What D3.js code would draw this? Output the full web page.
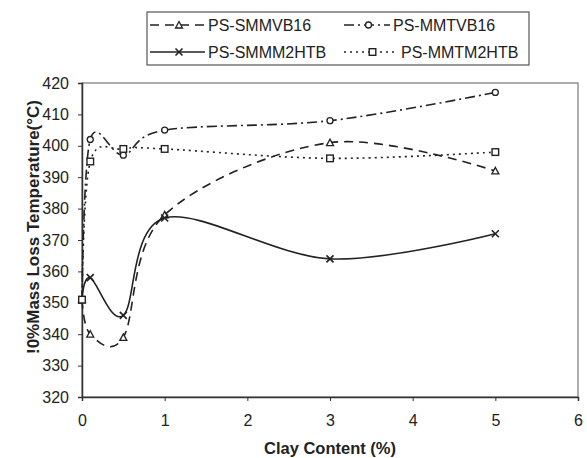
<!DOCTYPE html>
<html>
<head>
<meta charset="utf-8">
<script src="https://cdn.jsdelivr.net/npm/d3@7"></script>
<style>
  body { margin: 0; background: #fff; }
  text { font-family: "Liberation Sans", Arial, sans-serif; fill: #222; }
</style>
</head>
<body>
<div id="chart"></div>
<script>
// clay content (%)
var clay = [0, 0.1, 0.5, 1, 3, 5];
var smmvb16 = [351, 340, 339, 378, 401, 392];
var mmtvb16 = [351, 402, 397, 405, 408, 417];
var smmm2htb = [351, 358, 346, 377, 364, 372];
var mmtm2htb = [351, 395, 399, 399, 396, 398];
var xTicks = [0, 1, 2, 3, 4, 5, 6];
var yTicks = [320, 330, 340, 350, 360, 370, 380, 390, 400, 410, 420];

var width = 587, height = 458;
var plotL = 82, plotR = 578, plotT = 83, plotB = 397;

var svg = d3.select("#chart").append("svg")
   .attr("width", width)
   .attr("height", height);

var x = d3.scaleLinear().domain([0, 6]).range([plotL, plotR]);
var y = d3.scaleLinear().domain([320, 420]).range([plotB, plotT]);

// plot frame
svg.append("rect")
   .attr("x", plotL).attr("y", plotT)
   .attr("width", plotR - plotL).attr("height", plotB - plotT)
   .attr("fill", "none").attr("stroke", "#777").attr("stroke-width", 1.2);

var xAxis = svg.append("g")
   .attr("transform", "translate(0," + plotB + ")")
   .call(d3.axisBottom(x).tickValues(xTicks).tickSize(4).tickPadding(14).tickFormat(d3.format("d")));
var yAxis = svg.append("g")
   .attr("transform", "translate(" + plotL + ",0)")
   .call(d3.axisLeft(y).tickValues(yTicks).tickSize(4).tickPadding(9));
[xAxis, yAxis].forEach(function(a) {
   a.select(".domain").attr("stroke", "#333").attr("stroke-width", 1.5);
   a.selectAll(".tick line").attr("stroke", "#333");
   a.selectAll("text").attr("font-size", 16).attr("fill", "#222")
      .attr("font-family", "Liberation Sans, Arial, sans-serif");
});

svg.append("text")
   .attr("x", 330).attr("y", 454)
   .attr("text-anchor", "middle")
   .attr("font-size", 16.5).attr("font-weight", "bold")
   .text("Clay Content (%)");

svg.append("text")
   .attr("transform", "translate(39,227) rotate(-90)")
   .attr("text-anchor", "middle")
   .attr("font-size", 17).attr("font-weight", "bold")
   .text("!0%Mass Loss Temperature(°C)");

var series = [
   { name: "PS-SMMVB16", values: smmvb16, dash: "9,6", marker: "triangle" },
   { name: "PS-MMTVB16", values: mmtvb16, dash: "10,4,2,4", marker: "circle" },
   { name: "PS-SMMM2HTB", values: smmm2htb, dash: null, marker: "cross" },
   { name: "PS-MMTM2HTB", values: mmtm2htb, dash: "2,4", marker: "square" }
];

var line = d3.line()
   .x(function(d) { return x(d[0]); })
   .y(function(d) { return y(d[1]); })
   .curve(d3.curveCardinal.tension(0));

function drawMarker(g, kind, cx, cy) {
   if (kind == "triangle") {
      g.append("path").attr("d", "M" + cx + "," + (cy - 3.5) + "L" + (cx + 3.5) + "," + (cy + 3) + "L" + (cx - 3.5) + "," + (cy + 3) + "Z")
         .attr("fill", "#fff").attr("stroke", "#222").attr("stroke-width", 1.3);
   } else if (kind == "circle") {
      g.append("circle").attr("cx", cx).attr("cy", cy).attr("r", 3)
         .attr("fill", "#fff").attr("stroke", "#222").attr("stroke-width", 1.3);
   } else if (kind == "square") {
      g.append("rect").attr("x", cx - 3.3).attr("y", cy - 3.3).attr("width", 6.6).attr("height", 6.6)
         .attr("fill", "#fff").attr("stroke", "#222").attr("stroke-width", 1.4);
   } else {
      g.append("path").attr("d", "M" + (cx - 3.5) + "," + (cy - 3.5) + "L" + (cx + 3.5) + "," + (cy + 3.5) + "M" + (cx - 3.5) + "," + (cy + 3.5) + "L" + (cx + 3.5) + "," + (cy - 3.5))
         .attr("stroke", "#222").attr("stroke-width", 1.6);
   }
}

series.forEach(function(s) {
   var pts = clay.map(function(c, i) { return [c, s.values[i]]; });
   svg.append("path")
      .attr("d", line(pts))
      .attr("fill", "none")
      .attr("stroke", "#222")
      .attr("stroke-width", 1.6)
      .attr("stroke-dasharray", s.dash);
   var g = svg.append("g");
   pts.forEach(function(p) { drawMarker(g, s.marker, x(p[0]), y(p[1])); });
});

// legend
svg.append("rect")
   .attr("x", 147).attr("y", 12).attr("width", 382).attr("height", 53)
   .attr("fill", "#fff").attr("stroke", "#555").attr("stroke-width", 1.2);

var legendPos = [[150, 25, 208], [344, 25, 393], [150, 52, 208], [344, 52, 401]];
series.forEach(function(s, i) {
   var lx = legendPos[i][0], ly = legendPos[i][1];
   var g = svg.append("g");
   g.append("line")
      .attr("x1", lx).attr("x2", legendPos[i][2] - 3).attr("y1", ly).attr("y2", ly)
      .attr("stroke", "#222").attr("stroke-width", 1.6)
      .attr("stroke-dasharray", s.dash);
   drawMarker(g, s.marker, (lx + legendPos[i][2]) / 2, ly);
   g.append("text")
      .attr("x", legendPos[i][2]).attr("y", ly + 6)
      .attr("font-size", 16)
      .text(s.name);
});
</script>
</body>
</html>
